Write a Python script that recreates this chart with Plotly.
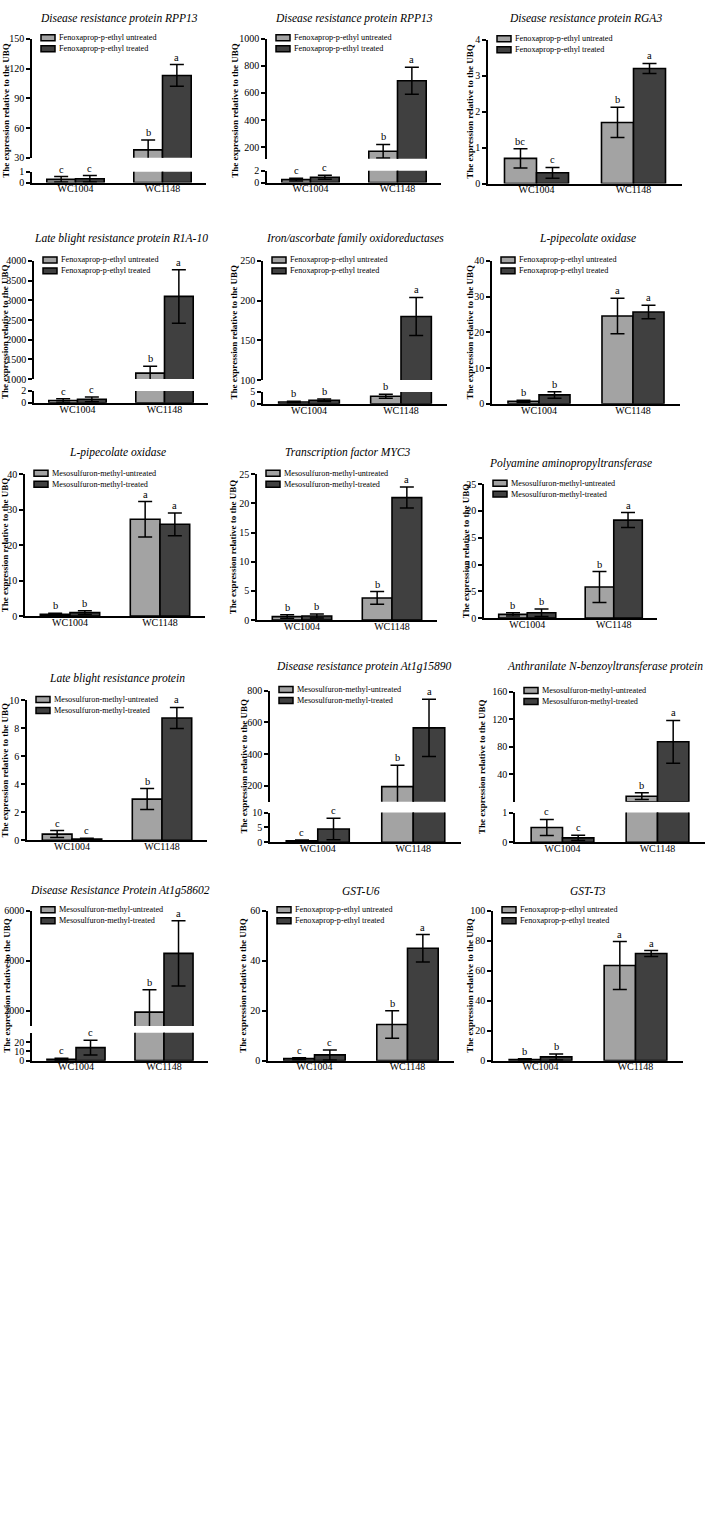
import plotly.graph_objects as go

# ---------------- DATA ----------------
categories = ["WC1004", "WC1148"]

titles = [
    "Disease resistance protein RPP13",
    "Disease resistance protein RPP13",
    "Disease resistance protein RGA3",
    "Late blight resistance protein R1A-10",
    "Iron/ascorbate family oxidoreductases",
    "L-pipecolate oxidase",
    "L-pipecolate oxidase",
    "Transcription factor MYC3",
    "Polyamine aminopropyltransferase",
    "Late blight resistance protein",
    "Disease resistance protein At1g15890",
    "Anthranilate N-benzoyltransferase protein",
    "Disease Resistance Protein At1g58602",
    "GST-U6",
    "GST-T3",
]

FEN = ("Fenoxaprop-p-ethyl untreated", "Fenoxaprop-p-ethyl treated")
MES = ("Mesosulfuron-methyl-untreated", "Mesosulfuron-methyl-treated")
series_names = [FEN] * 6 + [MES] * 7 + [FEN] * 2

untreated_mean = [
    [0.3, 38], [0.5, 170], [0.7, 1.7],
    [0.4, 1150], [0.8, 3.2], [0.7, 24.6],
    [0.5, 27.3], [0.6, 3.8], [0.7, 5.8],
    [0.45, 2.95], [0.5, 195], [0.5, 8],
    [1.5, 1950], [0.8, 14.5], [0.8, 63.5],
]
untreated_err = [
    [0.25, 10], [0.25, 50], [0.27, 0.42],
    [0.3, 175], [0.3, 0.8], [0.3, 5],
    [0.3, 5], [0.3, 1.1], [0.3, 2.9],
    [0.25, 0.75], [0.3, 135], [0.27, 5],
    [1.0, 900], [0.4, 5.5], [0.4, 16],
]
treated_mean = [
    [0.35, 113], [0.9, 690], [0.3, 3.2],
    [0.6, 3100], [1.5, 180], [2.5, 25.7],
    [1.0, 25.9], [0.7, 21], [1.0, 18.3],
    [0.1, 8.75], [4.5, 565], [0.15, 87],
    [14, 4300], [2.3, 45], [2.5, 71.5],
]
treated_err = [
    [0.3, 11], [0.35, 100], [0.15, 0.14],
    [0.4, 680], [0.5, 24], [0.9, 1.9],
    [0.5, 3.2], [0.35, 1.8], [0.7, 1.4],
    [0.05, 0.75], [3.6, 180], [0.09, 31],
    [8, 1300], [2.0, 5.5], [2.0, 2],
]
letters_untreated = [["c", "b"], ["c", "b"], ["bc", "b"], ["c", "b"], ["b", "b"], ["b", "a"],
                     ["b", "a"], ["b", "b"], ["b", "b"], ["c", "b"], ["c", "b"], ["c", "b"],
                     ["c", "b"], ["c", "b"], ["b", "a"]]
letters_treated = [["c", "a"], ["c", "a"], ["c", "a"], ["c", "a"], ["b", "a"], ["b", "a"],
                   ["b", "a"], ["b", "a"], ["b", "a"], ["c", "a"], ["c", "a"], ["c", "a"],
                   ["c", "a"], ["c", "a"], ["b", "a"]]

# ---------------- LAYOUT GEOMETRY (pixels) ----------------
W, H = 708, 1524
# x0, x1, title_x, title_y, ytitle_x, segments (lower first): (top_px, bottom_px, range, tickvals)
geo = [
    (32, 206, 119, 13, 6, [(167, 178, [0, 1], [0, 1]), (33, 153, [30, 150], [30, 60, 90, 120, 150])]),
    (267, 441, 354, 13, 235, [(166, 178, [0, 2], [0, 2]), (33, 154, [114, 1000], [200, 400, 600, 800, 1000])]),
    (488, 682, 585, 13, 470, [(34, 179, [0, 4], [0, 1, 2, 3, 4])]),
    (34, 208, 121, 234, 5, [(388, 400, [0, 2], [0, 2]),
                            (257, 376, [1000, 4000], [1000, 1500, 2000, 2500, 3000, 3500, 4000])]),
    (263, 447, 355, 234, 234, [(389, 401, [0, 5], [0, 5]), (257, 377, [100, 250], [100, 150, 200, 250])]),
    (492, 680, 587, 234, 470, [(257, 401, [0, 40], [0, 10, 20, 30, 40])]),
    (25, 205, 117, 450, 5, [(472, 615, [0, 40], [0, 10, 20, 30, 40])]),
    (257, 437, 347, 450, 233, [(472, 619, [0, 25], [0, 5, 10, 15, 20, 25])]),
    (484, 657, 570, 461, 466, [(482, 617, [0, 25], [0, 5, 10, 15, 20, 25])]),
    (27, 207, 117, 678, 5, [(700, 841, [0, 10], [0, 2, 4, 6, 8, 10])]),
    (270, 461, 364, 666, 244, [(813, 843, [0, 10], [0, 5, 10]), (690, 802, [100, 800], [200, 400, 600, 800])]),
    (515, 705, 605, 666, 482, [(813, 843, [0, 1], [0, 1]), (691, 802, [0, 160], [40, 80, 120, 160])]),
    (32, 208, 120, 892, 7, [(1035, 1063, [0, 30], [0, 10, 20]),
                            (912, 1028, [1400, 6000], [2000, 4000, 6000])]),
    (268, 454, 361, 892, 243, [(912, 1063, [0, 60], [0, 20, 40, 60])]),
    (493, 683, 588, 892, 470, [(912, 1063, [0, 100], [0, 20, 40, 60, 80, 100])]),
]

FONT = "Liberation Serif"
COL_U = "#a3a3a3"
COL_T = "#404040"
BARGAP = 0.34


def px_x(p):
    return p / W


def px_y(p):
    return 1 - p / H


fig = go.Figure()
layout = dict(
    width=W, height=H, margin=dict(l=0, r=0, t=0, b=0),
    paper_bgcolor="white", plot_bgcolor="white",
    bargap=BARGAP, barmode="group", showlegend=False,
    font=dict(family=FONT, size=10, color="black"),
)
annotations = []
shapes = []
next_y = len(geo) + 1

for i, (x0, x1, tx, ty, ytx, segs) in enumerate(geo):
    n = i + 1
    xid = "x" if n == 1 else f"x{n}"
    xkey = "xaxis" if n == 1 else f"xaxis{n}"
    seg_ids = []
    for s_idx, seg in enumerate(segs):
        if s_idx == 0:
            yn = n
        else:
            yn = next_y
            next_y += 1
        seg_ids.append(yn)

    low_yid = "y" if seg_ids[0] == 1 else f"y{seg_ids[0]}"
    layout[xkey] = dict(
        domain=[px_x(x0), px_x(x1)], anchor=low_yid,
        type="category", categoryorder="array", categoryarray=categories,
        range=[-0.5, 1.5], showline=True, linecolor="black", linewidth=1.5,
        ticks="", showgrid=False, zeroline=False, ticklabelstandoff=-4,
        tickfont=dict(family=FONT, size=10, color="black"),
    )

    means = [untreated_mean[i], treated_mean[i]]
    errs = [untreated_err[i], treated_err[i]]
    lets = [letters_untreated[i], letters_treated[i]]
    colors = [COL_U, COL_T]
    names = series_names[i]

    low_top = segs[0][2][1]
    for s_idx, (top, bot, rng, tv) in enumerate(segs):
        yn = seg_ids[s_idx]
        yid = "y" if yn == 1 else f"y{yn}"
        ykey = "yaxis" if yn == 1 else f"yaxis{yn}"
        layout[ykey] = dict(
            domain=[px_y(bot), px_y(top)], anchor=xid, range=rng,
            tickvals=tv, showline=True, linecolor="black", linewidth=1.5,
            ticks="outside", ticklen=4, tickwidth=1.5, tickcolor="black",
            showgrid=False, zeroline=False,
            tickfont=dict(family=FONT, size=10, color="black"),
        )
        for k in range(2):
            if s_idx == 0:
                yvals = means[k]
            else:
                yvals = [m if m > low_top else None for m in means[k]]
            fig.add_trace(go.Bar(
                x=categories, y=yvals, name=names[k],
                xaxis=xid, yaxis=yid,
                marker=dict(color=colors[k], line=dict(color="black", width=1.6)),
                error_y=dict(type="data", array=errs[k], color="black",
                             thickness=1.5, width=7),
                hoverinfo="skip",
            ))

    # significance letters
    group_w = (x1 - x0) / 2 * (1 - BARGAP)
    bar_w = group_w / 2
    for k in range(2):
        shift = (-bar_w / 2) if k == 0 else (bar_w / 2)
        for c in range(2):
            top_val = means[k][c] + errs[k][c]
            if len(segs) > 1 and top_val > low_top:
                yn = seg_ids[1]
            else:
                yn = seg_ids[0]
            yid = "y" if yn == 1 else f"y{yn}"
            annotations.append(dict(
                x=categories[c], y=top_val, xref=xid, yref=yid,
                xshift=shift, yshift=1, yanchor="bottom", showarrow=False,
                borderpad=0,
                text=lets[k][c], font=dict(family=FONT, size=10.5, color="black"),
            ))

    # panel title
    annotations.append(dict(
        x=px_x(tx), y=px_y(ty), xref="paper", yref="paper",
        xanchor="center", yanchor="middle", showarrow=False,
        text=f"<i>{titles[i]}</i>", font=dict(family=FONT, size=11.5, color="black"),
    ))
    # y-axis title
    top_px = min(s[0] for s in segs)
    bot_px = max(s[1] for s in segs)
    annotations.append(dict(
        x=px_x(ytx), y=px_y((top_px + bot_px) / 2), xref="paper", yref="paper",
        xanchor="center", yanchor="middle", showarrow=False, textangle=-90,
        text="<b>The expression relative to the UBQ</b>",
        font=dict(family=FONT, size=9, color="black"),
    ))
    # legend (swatch + label per series)
    for k in range(2):
        cy = top_px - 1 + 11 * k
        shapes.append(dict(
            type="rect", xref="paper", yref="paper",
            x0=px_x(x0 + 9), x1=px_x(x0 + 23), y0=px_y(cy + 3), y1=px_y(cy - 3),
            fillcolor=colors[k], line=dict(color="black", width=1.5),
        ))
        annotations.append(dict(
            x=px_x(x0 + 26), y=px_y(cy), xref="paper", yref="paper",
            xanchor="left", yanchor="middle", showarrow=False, borderpad=0,
            text=names[k], font=dict(family=FONT, size=8.2, color="black"),
        ))

layout["annotations"] = annotations
layout["shapes"] = shapes
fig.update_layout(**layout)

fig.write_html("out.html", config={"displayModeBar": False},
               post_script="document.body.style.margin='0';")
